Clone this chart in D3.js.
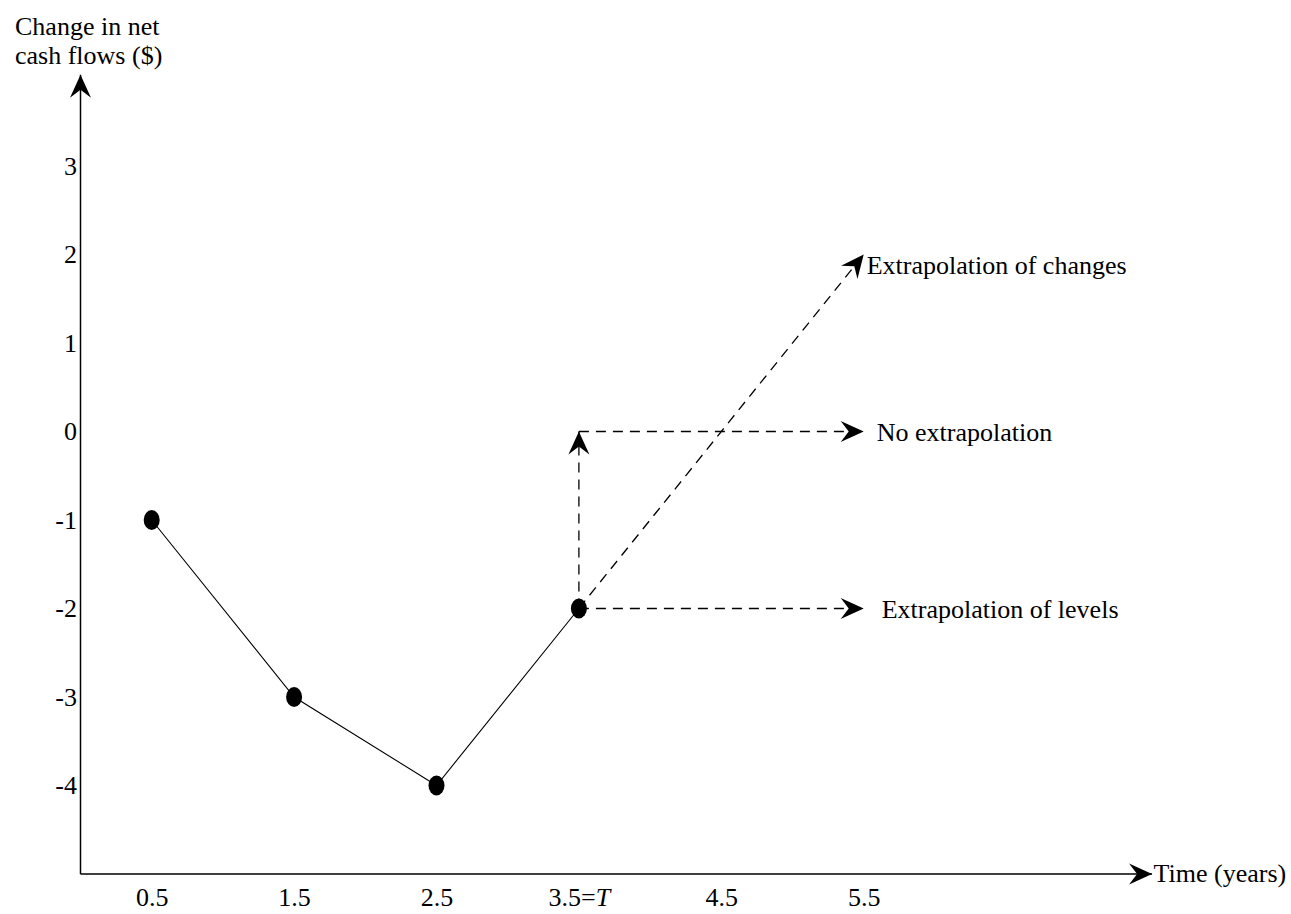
<!DOCTYPE html>
<html>
<head>
<meta charset="utf-8">
<script src="https://cdn.jsdelivr.net/npm/d3@7"></script>
<style>
  html, body { margin: 0; padding: 0; background: #fff; }
  svg { display: block; }
  text { font-family: "Liberation Serif", "Times New Roman", serif; fill: #000; }
</style>
</head>
<body>
<svg id="chart" width="1291" height="914"></svg>
<script>
// ---- data ----
const times = [0.5, 1.5, 2.5, 3.5];
const cashFlowChanges = [-1, -3, -4, -2];
const xTickValues = [0.5, 1.5, 2.5, 3.5, 4.5, 5.5];
const xTickLabels = ["0.5", "1.5", "2.5", "3.5=T", "4.5", "5.5"];
const yTickValues = [3, 2, 1, 0, -1, -2, -3, -4];
const yTickLabels = ["3", "2", "1", "0", "-1", "-2", "-3", "-4"];
const extrapolationNames = ["Extrapolation of changes", "No extrapolation", "Extrapolation of levels"];
const changesPath = [[3.5, -2], [5.5, 2]];
const noExtrapPath = [[3.5, -2], [3.5, 0], [5.5, 0]];
const levelsPath = [[3.5, -2], [5.5, -2]];
const yAxisTitle = ["Change in net", "cash flows ($)"];
const xAxisTitle = "Time (years)";

// ---- scales ----
const x = d3.scaleLinear().domain([0, 7.5]).range([80.5, 80.5 + 7.5 * 142.4]);
const y = d3.scaleLinear().domain([-5, 4]).range([874, 874 - 9 * 88.5]);
const xMax = 7.525, yMax = 4.03;

const svg = d3.select("#chart");
const defs = svg.append("defs");
defs.append("marker")
  .attr("id", "arrow")
  .attr("markerUnits", "userSpaceOnUse")
  .attr("viewBox", "-24 -12 25 24")
  .attr("refX", 0).attr("refY", 0)
  .attr("markerWidth", 25).attr("markerHeight", 24)
  .attr("orient", "auto")
  .append("path")
  .attr("d", "M0,0 L-23,-10.5 L-15,0 L-23,10.5 Z")
  .attr("fill", "#000");

const FS = 26;

// ---- axes lines ----
svg.append("line")
  .attr("x1", x(0)).attr("y1", y(-5)).attr("x2", x(xMax)).attr("y2", y(-5))
  .attr("stroke", "#000").attr("stroke-width", 1.5)
  .attr("marker-end", "url(#arrow)");
svg.append("line")
  .attr("x1", x(0)).attr("y1", y(-5)).attr("x2", x(0)).attr("y2", y(yMax))
  .attr("stroke", "#000").attr("stroke-width", 1.5)
  .attr("marker-end", "url(#arrow)");

// ---- tick labels through d3 axes ----
const xAxis = d3.axisBottom(x)
  .tickValues(xTickValues)
  .tickSize(0).tickPadding(13.5)
  .tickFormat((d, i) => xTickLabels[i]);
const gx = svg.append("g").attr("transform", `translate(0,${y(-5)})`).call(xAxis);
gx.select(".domain").remove();
gx.selectAll("text")
  .attr("font-size", FS)
  .style("font-family", "'Liberation Serif', serif")
  .each(function (d, i) {
    const lab = xTickLabels[i];
    if (lab.endsWith("=T")) {
      const t = d3.select(this);
      t.text(null);
      t.append("tspan").text(lab.slice(0, -1));
      t.append("tspan").attr("font-style", "italic").text("T");
    }
  });

const yAxis = d3.axisLeft(y)
  .tickValues(yTickValues)
  .tickSize(0).tickPadding(3.5)
  .tickFormat((d, i) => yTickLabels[i]);
const gy = svg.append("g").attr("transform", `translate(${x(0)},0)`).call(yAxis);
gy.select(".domain").remove();
gy.selectAll("text")
  .attr("font-size", FS)
  .style("font-family", "'Liberation Serif', serif");

// ---- axis titles ----
svg.append("text").attr("x", 15).attr("y", 35).attr("font-size", FS).text(yAxisTitle[0]);
svg.append("text").attr("x", 15).attr("y", 64).attr("font-size", FS).text(yAxisTitle[1]);
svg.append("text").attr("x", x(xMax) + 1.5).attr("y", y(-5) + 8).attr("font-size", FS).text(xAxisTitle);

// ---- data line ----
const pts = times.map((t, i) => [t, cashFlowChanges[i]]);
const line = d3.line().x(d => x(d[0])).y(d => y(d[1]));
svg.append("path")
  .attr("d", line(pts))
  .attr("fill", "none").attr("stroke", "#000").attr("stroke-width", 1.1);

// ---- extrapolation dashed arrows ----
const dash = "10,7";
function dashedArrow(p) {
  svg.append("path")
    .attr("d", line(p))
    .attr("fill", "none").attr("stroke", "#000").attr("stroke-width", 1.3)
    .attr("stroke-dasharray", dash)
    .attr("marker-end", "url(#arrow)");
}
dashedArrow([noExtrapPath[0], noExtrapPath[1]]);
dashedArrow([noExtrapPath[1], noExtrapPath[2]]);
dashedArrow(changesPath);
dashedArrow(levelsPath);

// ---- points ----
svg.selectAll("ellipse.pt").data(pts).enter().append("ellipse")
  .attr("class", "pt")
  .attr("cx", d => x(d[0])).attr("cy", d => y(d[1]))
  .attr("rx", 8).attr("ry", 10)
  .attr("fill", "#000");

// ---- extrapolation labels ----
svg.append("text").attr("x", x(changesPath[1][0]) + 3).attr("y", y(changesPath[1][1]) + 19)
  .attr("font-size", FS).text(extrapolationNames[0]);
svg.append("text").attr("x", x(noExtrapPath[2][0]) + 13).attr("y", y(noExtrapPath[2][1]) + 9)
  .attr("font-size", FS).text(extrapolationNames[1]);
svg.append("text").attr("x", x(levelsPath[1][0]) + 18).attr("y", y(levelsPath[1][1]) + 9)
  .attr("font-size", FS).text(extrapolationNames[2]);
</script>
</body>
</html>
